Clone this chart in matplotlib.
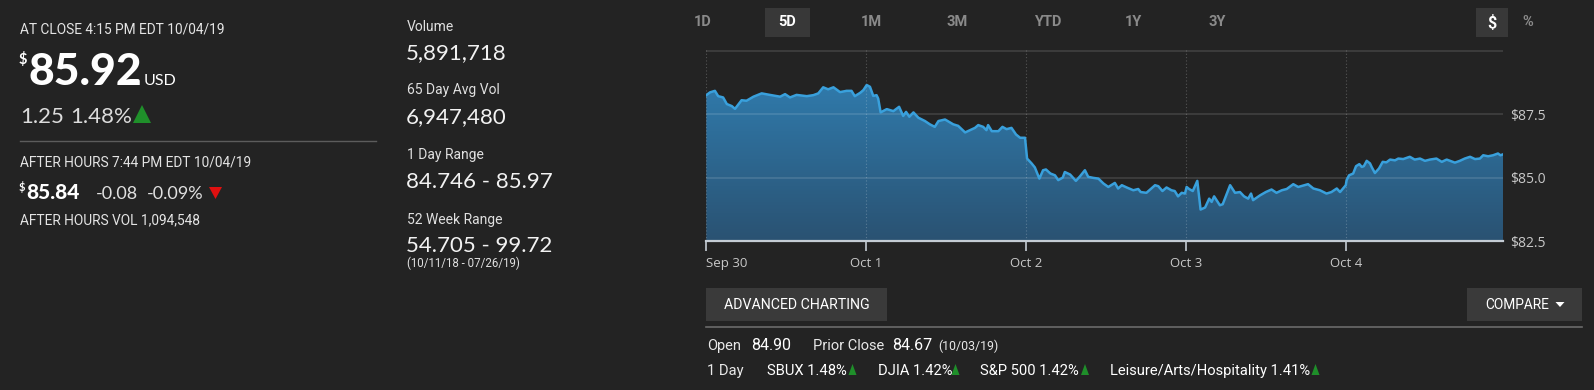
import matplotlib
matplotlib.use("Agg")
import matplotlib.pyplot as plt
import numpy as np
from matplotlib.patches import Rectangle, Polygon, PathPatch
from matplotlib.lines import Line2D
from matplotlib.colors import LinearSegmentedColormap

# ---------------- data ----------------
day_labels = ["Sep 30", "Oct 1", "Oct 2", "Oct 3", "Oct 4"]

sep30_times = ["09:30", "09:39", "09:51", "09:59", "10:11", "10:20", "10:32", "10:40", "10:56", "11:08",
               "11:25", "11:45", "12:05", "12:30", "12:42", "12:54", "13:10", "13:35", "13:51", "14:03",
               "14:15", "14:27", "14:40", "14:56", "15:12", "15:24", "15:32", "15:45", "15:53"]
sep30_prices = [88.25, 88.36, 88.42, 88.21, 88.16, 87.90, 87.82, 87.71, 88.05, 88.03,
                88.19, 88.32, 88.26, 88.19, 88.29, 88.16, 88.26, 88.21, 88.25, 88.32,
                88.56, 88.48, 88.56, 88.37, 88.42, 88.42, 88.21, 88.34, 88.45]

oct1_times = ["09:31", "09:39", "09:47", "09:55", "09:59", "10:05", "10:20", "10:36", "10:50", "11:00",
              "11:07", "11:15", "11:25", "11:37", "11:53", "12:05", "12:17", "12:26", "12:42", "13:02",
              "13:14", "13:31", "13:43", "13:55", "14:03", "14:15", "14:23", "14:27", "14:36", "14:52",
              "15:02", "15:12", "15:24", "15:35", "15:45", "15:57"]
oct1_prices = [88.65, 88.58, 88.22, 88.25, 88.12, 87.57, 87.70, 87.62, 87.79, 87.43,
               87.59, 87.40, 87.57, 87.36, 87.23, 87.10, 87.00, 87.23, 87.29, 87.10,
               87.04, 86.78, 86.87, 86.96, 87.07, 87.00, 86.87, 87.07, 86.83, 86.83,
               87.00, 86.91, 86.96, 86.70, 86.57, 86.57]

oct2_times = ["09:32", "09:43", "09:51", "10:02", "10:11", "10:18", "10:29", "10:40", "10:48", "10:59",
              "11:04", "11:17", "11:31", "11:41", "11:53", "12:01", "12:13", "12:26", "12:38", "12:50",
              "13:06", "13:14", "13:23", "13:35", "13:51", "14:03", "14:09", "14:23", "14:44", "14:52",
              "15:02", "15:12", "15:24", "15:32", "15:40", "15:49", "15:57"]
oct2_prices = [85.75, 85.56, 85.40, 84.96, 85.29, 85.32, 85.16, 85.09, 84.90, 85.00,
               85.22, 85.12, 84.87, 85.05, 85.29, 85.03, 84.99, 84.96, 84.77, 84.63,
               84.79, 84.57, 84.70, 84.61, 84.50, 84.55, 84.43, 84.40, 84.70, 84.66,
               84.47, 84.61, 84.50, 84.47, 84.26, 84.40, 84.37]

oct3_times = ["09:31", "09:37", "09:46", "09:57", "10:05", "10:16", "10:26", "10:32", "10:38", "10:52",
              "10:59", "11:17", "11:29", "11:41", "11:51", "12:01", "12:08", "12:13", "12:30", "12:44",
              "12:58", "13:10", "13:23", "13:35", "13:51", "14:03", "14:27", "14:40", "14:56", "15:12",
              "15:24", "15:37", "15:45", "15:59"]
oct3_prices = [84.63, 84.55, 84.47, 84.87, 83.74, 83.82, 84.17, 84.04, 84.26, 83.91,
               83.95, 84.70, 84.40, 84.43, 84.26, 84.17, 84.37, 84.11, 84.30, 84.43,
               84.53, 84.40, 84.50, 84.55, 84.74, 84.63, 84.74, 84.57, 84.50, 84.37,
               84.43, 84.57, 84.43, 84.70]

oct4_times = ["09:31", "09:37", "09:47", "09:54", "10:02", "10:08", "10:13", "10:20", "10:28", "10:32",
              "10:40", "10:50", "10:59", "11:08", "11:17", "11:29", "11:37", "11:49", "12:05", "12:17",
              "12:30", "12:42", "12:54", "13:10", "13:23", "13:35", "13:55", "14:07", "14:19", "14:32",
              "14:44", "14:56", "15:04", "15:16", "15:28", "15:40", "15:46", "15:53"]
oct4_prices = [84.90, 85.09, 85.16, 85.45, 85.53, 85.42, 85.45, 85.66, 85.56, 85.42,
               85.18, 85.36, 85.62, 85.60, 85.71, 85.68, 85.75, 85.73, 85.82, 85.71,
               85.75, 85.66, 85.71, 85.75, 85.62, 85.71, 85.59, 85.66, 85.75, 85.82,
               85.73, 85.75, 85.88, 85.84, 85.88, 85.95, 85.88, 85.92]

y_ticks = [82.5, 85.0, 87.5]
grid_levels = [85.0, 87.5, 90.0]
y_min, y_max = 82.5, 90.05

range_buttons = ["1D", "5D", "1M", "3M", "YTD", "1Y", "3Y"]
active_button = "5D"

# ---------------- helpers ----------------
W, H = 1594, 390
BG = "#232323"
NARROW = ["Roboto", "DejaVu Sans"]
LATO = ["Lato", "DejaVu Sans"]
OPEN = ["Open Sans", "DejaVu Sans"]

fig = plt.figure(figsize=(W / 100, H / 100), dpi=100, facecolor=BG)


def T(x, y, s, size, color="#e4e4e4", weight="normal", family=NARROW, ha="left", va="baseline"):
    fig.text(x / W, 1 - y / H, s, fontsize=size, color=color, fontweight=weight,
             family=family, ha=ha, va=va)


def box(x, y, w, h, color):
    fig.add_artist(Rectangle((x / W, 1 - (y + h) / H), w / W, h / H,
                             transform=fig.transFigure, facecolor=color, edgecolor="none"))


def hline(x0, x1, y, color, lw=1.0):
    fig.add_artist(Line2D([x0 / W, x1 / W], [1 - y / H, 1 - y / H],
                          transform=fig.transFigure, color=color, lw=lw))


def tri(cx, ytop, ybot, w, color, up=True):
    if up:
        pts = [(cx - w / 2, ybot), (cx + w / 2, ybot), (cx, ytop)]
    else:
        pts = [(cx - w / 2, ytop), (cx + w / 2, ytop), (cx, ybot)]
    pts = [(px / W, 1 - py / H) for px, py in pts]
    fig.add_artist(Polygon(pts, closed=True, transform=fig.transFigure,
                           facecolor=color, edgecolor="none"))


GREEN = "#1f8f2a"
RED = "#e01010"

# ---------------- left panel ----------------
T(20, 33, "AT CLOSE 4:15 PM EDT 10/04/19", 9.9)
T(19, 64, "$", 10.5, color="#ffffff", family=LATO, weight="bold")
T(28, 85, "85.92", 32, color="#ffffff", family=LATO, weight="black")
T(144, 85, "USD", 11.5, color="#ffffff", family=LATO)
T(20, 123, "1.25", 16, color="#dcdcdc", family=LATO)
T(70, 123, "1.48%", 16, color="#dcdcdc", family=LATO)
tri(142, 105, 123, 18, GREEN)
hline(20, 376, 141, "#5c5c5c", 1.0)
T(20, 166, "AFTER HOURS 7:44 PM EDT 10/04/19", 9.9)
T(19, 191, "$", 8, color="#ffffff", family=LATO, weight="bold")
T(26, 199.5, "85.84", 15, color="#ffffff", family=LATO, weight="black")
T(96, 199.5, "-0.08", 13, color="#e0e0e0", family=LATO)
T(147, 199.5, "-0.09%", 13, color="#e0e0e0", family=LATO)
tri(215.5, 187, 199, 13, RED, up=False)
T(20, 224, "AFTER HOURS VOL 1,094,548", 9.9)

# ---------------- middle panel ----------------
stats = [("Volume", "5,891,718", 31, 59),
         ("65 Day Avg Vol", "6,947,480", 94, 123),
         ("1 Day Range", "84.746 - 85.97", 159, 188),
         ("52 Week Range", "54.705 - 99.72", 224, 252)]
for lab, val, yl, yv in stats:
    T(407, yl, lab, 10, color="#e0e0e0")
    T(406, yv, val, 16, color="#f2f2f2", family=LATO)
T(407, 267, "(10/11/18 - 07/26/19)", 8.3, color="#e0e0e0")

# ---------------- range buttons ----------------
button_x = [703, 787, 871, 957, 1048, 1134, 1217]
for lab, bx in zip(range_buttons, button_x):
    if lab == active_button:
        box(bx - 22, 8, 45, 29, "#383838")
        T(bx, 22.5, lab, 10.5, color="#ffffff", weight="bold", ha="center", va="center")
    else:
        T(bx, 22.5, lab, 10.5, color="#8a8a8a", weight="bold", ha="center", va="center")
box(1476, 8, 32, 29, "#383838")
T(1492, 22.5, "$", 11.5, color="#ffffff", weight="bold", ha="center", va="center")
T(1528, 22.5, "%", 10.5, color="#8a8a8a", weight="bold", ha="center", va="center")

# ---------------- chart ----------------
SESSION_OPEN = 9 * 60 + 30
SESSION_LEN = 390.0


def to_x(day_index, times):
    out = []
    for t in times:
        hh, mm = t.split(":")
        out.append(day_index + (int(hh) * 60 + int(mm) - SESSION_OPEN) / SESSION_LEN)
    return out


all_times = [sep30_times, oct1_times, oct2_times, oct3_times, oct4_times]
all_prices = [sep30_prices, oct1_prices, oct2_prices, oct3_prices, oct4_prices]
xs, ys = [], []
for i, (tt, pp) in enumerate(zip(all_times, all_prices)):
    xs += to_x(i, tt)
    ys += pp
xs = np.array(xs)
ys = np.array(ys)

ax_left, ax_right, ax_top, ax_bot = 706.3, 1503.3, 49.5, 241
ax = fig.add_axes([ax_left / W, 1 - ax_bot / H, (ax_right - ax_left) / W, (ax_bot - ax_top) / H])
ax.set_facecolor(BG)
x_end = xs[-1]

fill = ax.fill_between(xs, ys, y_min, facecolor="none", edgecolor="none")
clip = PathPatch(fill.get_paths()[0], transform=ax.transData, facecolor="none", edgecolor="none")
ax.add_patch(clip)
cmap = LinearSegmentedColormap.from_list("g", ["#2a5272", "#3183b8"])
grad = np.linspace(0, 1, 256).reshape(-1, 1)
im = ax.imshow(grad, extent=[0, x_end, y_min, y_max], origin="lower", aspect="auto",
               cmap=cmap, zorder=1, interpolation="bilinear")
im.set_clip_path(clip)

for g in grid_levels:
    ax.axhline(g, color="#ffffff", alpha=0.13, lw=1.2, zorder=2)
for d in range(len(day_labels)):
    ax.axvline(d, color="#ffffff", alpha=0.22, lw=0.8, ls=(0, (1, 2)), zorder=2)

ax.plot(xs, ys, color="#39a0dc", lw=1.8, zorder=3, solid_joinstyle="round")

ax.set_xlim(0, x_end)
ax.set_ylim(y_min, y_max)
for s in ["top", "left", "right"]:
    ax.spines[s].set_visible(False)
ax.spines["bottom"].set_color("#c4ccd4")
ax.spines["bottom"].set_linewidth(1.6)
ax.spines["bottom"].set_zorder(4)

ax.set_xticks(range(len(day_labels)))
ax.set_xticklabels(day_labels, family=OPEN, fontsize=9.5, color="#c8c8c8")
ax.get_xticklabels()[0].set_ha("left")
ax.tick_params(axis="x", direction="out", length=7.5, width=1.2, color="#c4ccd4", pad=4)

ax.yaxis.tick_right()
ax.set_yticks(y_ticks)
ax.set_yticklabels(["$%.1f" % v for v in y_ticks], family=OPEN, fontsize=10, color="#c8c8c8")
ax.tick_params(axis="y", length=0, pad=5)

# ---------------- bottom controls ----------------
box(706, 288, 181, 33, "#3a3a3a")
T(796.5, 305, "ADVANCED CHARTING", 10.2, color="#ffffff", ha="center", va="center")
box(1467, 288, 115, 33, "#3a3a3a")
T(1485, 305, "COMPARE", 9.9, color="#ffffff", ha="left", va="center")
tri(1560, 302, 307, 9, "#ffffff", up=False)
hline(706, 1582, 327, "#6a6a6a", 1.2)

T(707, 350, "Open", 10.5, color="#e8e8e8")
T(751, 350, "84.90", 11.5, color="#ffffff")
T(813, 350, "Prior Close", 10.5, color="#e8e8e8")
T(892, 350, "84.67", 11.5, color="#ffffff")
T(938, 350, "(10/03/19)", 8.9, color="#e8e8e8")

T(707, 375, "1 Day", 10.6, color="#e8e8e8")
compare_items = [("SBUX 1.48%", 767, 852.5), ("DJIA 1.42%", 878, 955.5),
                 ("S&P 500 1.42%", 980, 1085), ("Leisure/Arts/Hospitality 1.41%", 1110, 1315.5)]
for lab, lx, tx in compare_items:
    T(lx, 375, lab, 10.6, color="#ffffff")
    tri(tx, 364, 375, 8, GREEN)

fig.savefig("out.png", dpi=100, facecolor=BG)
